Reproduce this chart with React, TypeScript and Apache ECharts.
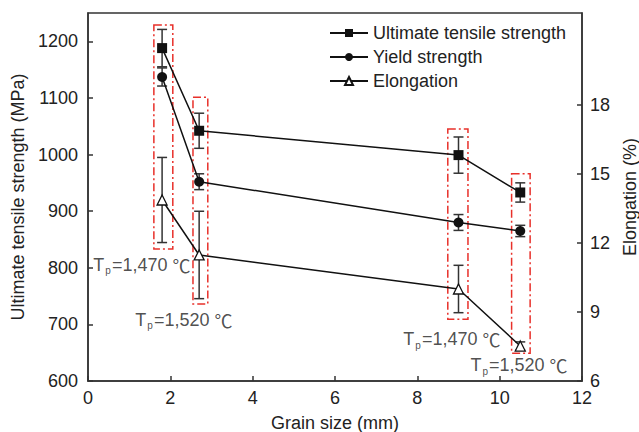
import React, { useEffect, useRef } from 'react';
import * as echarts from 'echarts';

const grainSize = [1.8, 2.7, 9.0, 10.5];
const utsValues = [1188, 1042, 999, 933];
const utsErrors = [33, 31, 32, 17];
const ysValues = [1137, 952, 880, 865];
const ysErrors = [16, 14, 14, 10];
const elongValues = [13.87, 11.48, 10.0, 7.52];
const elongErrors = [1.85, 1.9, 1.03, 0.18];

const xTicks = [0, 2, 4, 6, 8, 10, 12];
const leftTicks = [600, 700, 800, 900, 1000, 1100, 1200];
const rightTicks = [6, 9, 12, 15, 18];

const boxXRanges = [[1.6, 2.06], [2.55, 2.91], [8.74, 9.23], [10.29, 10.74]];
const boxYRanges = [[833, 1229], [736, 1101], [709, 1045], [649, 966]];

const tpTexts = ['1,470', '1,520', '1,470', '1,520'];
const tpLabelX = [0.13, 1.15, 7.66, 9.29];
const tpLabelY = [805, 708, 674, 628];

const FONT = '"Liberation Sans", Arial, sans-serif';
const CJK = '"Noto Sans CJK SC", sans-serif';
const AXIS_COLOR = '#333';

function errorData(values: number[], errs: number[]) {
  return grainSize.map((x, i) => [x, values[i] - errs[i], values[i] + errs[i]]);
}

const errorRender = (params: any, api: any) => {
  const x = api.value(0);
  const lo = api.coord([x, api.value(1)]);
  const hi = api.coord([x, api.value(2)]);
  const w = 5;
  const style = { stroke: '#333', lineWidth: 1.5 };
  return {
    type: 'group',
    children: [
      { type: 'line', shape: { x1: lo[0], y1: lo[1], x2: hi[0], y2: hi[1] }, style },
      { type: 'line', shape: { x1: lo[0] - w, y1: lo[1], x2: lo[0] + w, y2: lo[1] }, style },
      { type: 'line', shape: { x1: hi[0] - w, y1: hi[1], x2: hi[0] + w, y2: hi[1] }, style },
    ],
  };
};

const boxRender = (params: any, api: any) => {
  const tl = api.coord([api.value(0), api.value(3)]);
  const br = api.coord([api.value(1), api.value(2)]);
  return {
    type: 'rect',
    shape: { x: tl[0], y: tl[1], width: br[0] - tl[0], height: br[1] - tl[1] },
    style: { fill: 'none', stroke: '#e8302a', lineWidth: 1.5, lineDash: [8, 3, 2, 3] },
  };
};

export default function App() {
  const ref = useRef<HTMLDivElement>(null);
  useEffect(() => {
    if (!ref.current) return;
    const chart = echarts.init(ref.current, null, { renderer: 'svg' });
    const axisLabelStyle = { fontFamily: FONT, fontSize: 18, color: '#222', formatter: (v: number) => String(v) };
    const option: any = {
      animation: false,
      backgroundColor: '#fff',
      grid: {
        left: 88, right: 57, top: 13, bottom: 51,
        containLabel: false, outerBoundsMode: 'none',
        show: true, borderColor: AXIS_COLOR, borderWidth: 1.5, backgroundColor: 'transparent',
      },
      legend: {
        orient: 'vertical',
        left: 324,
        top: 19,
        itemWidth: 38,
        itemHeight: 10,
        itemGap: 6,
        textStyle: { fontFamily: FONT, fontSize: 18, color: '#222' },
        data: ['Ultimate tensile strength', 'Yield strength', 'Elongation'],
      },
      xAxis: {
        type: 'value', min: 0, max: 12, interval: 2,
        name: 'Grain size (mm)', nameLocation: 'middle', nameGap: 33,
        nameTextStyle: { fontFamily: FONT, fontSize: 18, color: '#222' },
        axisLine: { show: true, lineStyle: { color: AXIS_COLOR, width: 1.5 } },
        axisTick: { show: true, inside: true, length: 5, lineStyle: { color: AXIS_COLOR, width: 1.5 }, customValues: xTicks },
        axisLabel: { ...axisLabelStyle, margin: 8, customValues: xTicks },
        splitLine: { show: false },
      },
      yAxis: [
        {
          type: 'value', min: 600, max: 1250, interval: 100,
          name: 'Ultimate tensile strength (MPa)', nameLocation: 'middle', nameGap: 60,
          nameTextStyle: { fontFamily: FONT, fontSize: 18, color: '#222' },
          axisLine: { show: true, lineStyle: { color: AXIS_COLOR, width: 1.5 } },
          axisTick: { show: true, inside: true, length: 5, lineStyle: { color: AXIS_COLOR, width: 1.5 }, customValues: leftTicks },
          axisLabel: { ...axisLabelStyle, margin: 10, customValues: leftTicks },
          splitLine: { show: false },
        },
        {
          type: 'value', min: 6, max: 22, interval: 3, position: 'right',
          name: 'Elongation (%)', nameLocation: 'middle', nameGap: 33,
          nameTextStyle: { fontFamily: FONT, fontSize: 18, color: '#222' },
          axisLine: { show: true, lineStyle: { color: AXIS_COLOR, width: 1.5 } },
          axisTick: { show: true, inside: true, length: 5, lineStyle: { color: AXIS_COLOR, width: 1.5 }, customValues: rightTicks },
          axisLabel: { ...axisLabelStyle, margin: 8, customValues: rightTicks },
          splitLine: { show: false },
        },
      ],
      series: [
        {
          type: 'custom', name: 'boxes', silent: true, yAxisIndex: 0,
          renderItem: boxRender,
          encode: { x: [0, 1], y: [2, 3] },
          data: boxXRanges.map((r, i) => [r[0], r[1], boxYRanges[i][0], boxYRanges[i][1]]),
          z: 1,
        },
        {
          type: 'custom', name: 'utsErr', silent: true, yAxisIndex: 0,
          renderItem: errorRender, encode: { x: 0, y: [1, 2] },
          data: errorData(utsValues, utsErrors), z: 2,
        },
        {
          type: 'custom', name: 'ysErr', silent: true, yAxisIndex: 0,
          renderItem: errorRender, encode: { x: 0, y: [1, 2] },
          data: errorData(ysValues, ysErrors), z: 2,
        },
        {
          type: 'custom', name: 'elErr', silent: true, yAxisIndex: 1,
          renderItem: errorRender, encode: { x: 0, y: [1, 2] },
          data: errorData(elongValues, elongErrors), z: 2,
        },
        {
          type: 'line', name: 'Ultimate tensile strength', yAxisIndex: 0,
          symbol: 'rect', symbolSize: 10,
          lineStyle: { color: '#111', width: 1.5 },
          itemStyle: { color: '#111' },
          data: grainSize.map((x, i) => [x, utsValues[i]]), z: 3,
        },
        {
          type: 'line', name: 'Yield strength', yAxisIndex: 0,
          symbol: 'circle', symbolSize: 10,
          lineStyle: { color: '#111', width: 1.5 },
          itemStyle: { color: '#111' },
          data: grainSize.map((x, i) => [x, ysValues[i]]), z: 3,
        },
        {
          type: 'line', name: 'Elongation', yAxisIndex: 1,
          symbol: 'triangle', symbolSize: 10,
          lineStyle: { color: '#111', width: 1.5 },
          itemStyle: { color: '#fff', borderColor: '#111', borderWidth: 1.3 },
          data: grainSize.map((x, i) => [x, elongValues[i]]), z: 3,
        },
        {
          type: 'scatter', name: 'tp', yAxisIndex: 0, silent: true,
          symbolSize: 0,
          data: tpTexts.map((t, i) => [tpLabelX[i], tpLabelY[i], t]),
          label: {
            show: true, position: 'right', distance: 0,
            formatter: (p: any) => `{t|T}{s|p}{t|=${p.value[2]} }{c|℃}`,
            rich: {
              t: { fontFamily: FONT, fontSize: 18, color: '#222' },
              s: { fontFamily: FONT, fontSize: 10, color: '#222', padding: [12, 1, 0, 1] },
              c: { fontFamily: CJK, fontSize: 18, color: '#222' },
            },
          },
          z: 4,
        },
      ],
    };
    chart.setOption(option);
    return () => chart.dispose();
  }, []);
  return <div ref={ref} style={{ position: 'fixed', left: 0, top: 0, width: 639, height: 432 }} />;
}
